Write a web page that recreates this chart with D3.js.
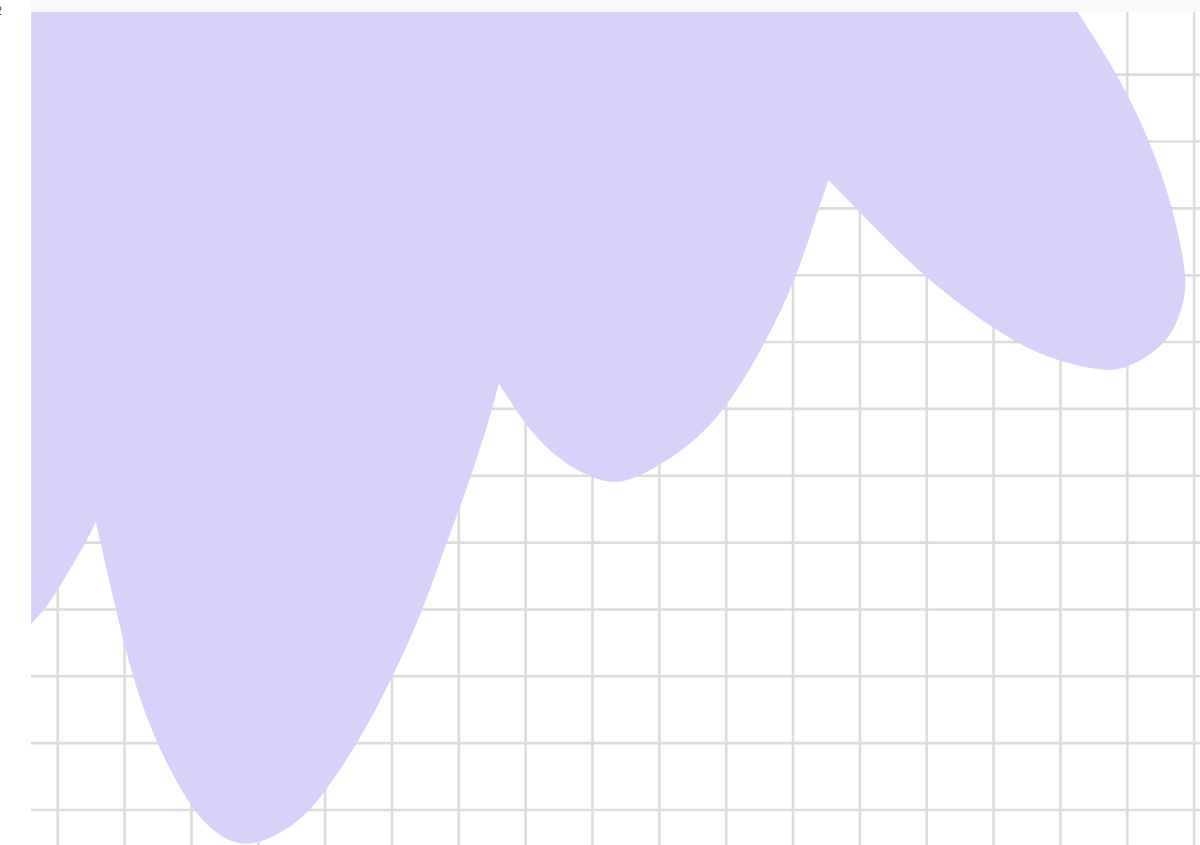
<!DOCTYPE html>
<meta charset="utf-8">
<script src="https://d3js.org/d3.v7.min.js"></script>
<style>
  body { margin: 0; background: #fff; }
  #my_dataviz text { font-family: "Liberation Sans", Arial, sans-serif; }
</style>
<div id="my_dataviz"></div>
<script>

// grid tick values
var xTicks = d3.range(0, 18);
var yTicks = d3.range(0, 12);

// outline of the filled area, one array per lobe, [x, y] in data units
var lobeLeft = [[-0.71, 2.50], [-0.41, 2.77], [-0.19, 3.00], [0.00, 3.29], [0.43, 4.01], [0.57, 4.31]];
var lobeBig = [[0.57, 4.31], [0.87, 3.00], [1.11, 2.00], [1.46, 1.01], [2.00, 0.00],
  [2.38, -0.37], [2.75, -0.55], [3.18, -0.44], [3.60, -0.18], [3.97, 0.22],
  [4.50, 1.01], [5.02, 2.00], [5.47, 3.00], [5.82, 4.01], [6.17, 4.94],
  [6.47, 5.88], [6.60, 6.38]];
var lobeMid = [[6.60, 6.38], [7.01, 5.73], [7.48, 5.24], [8.00, 4.96], [8.40, 4.86],
  [8.90, 5.09], [9.44, 5.44], [9.99, 5.98], [10.60, 7.00], [11.07, 8.00],
  [11.38, 9.00], [11.53, 9.42]];
var lobeRight = [[11.53, 9.42], [12.01, 8.93], [12.96, 7.96], [14.01, 7.18], [14.69, 6.81],
  [15.19, 6.66], [15.69, 6.56], [15.99, 6.61], [16.39, 6.83], [16.69, 7.13],
  [16.86, 7.63], [16.89, 8.00], [16.69, 9.00], [16.34, 10.02], [15.84, 11.04],
  [15.25, 11.94], [14.85, 12.57]];
var lobes = [lobeLeft, lobeBig, lobeMid, lobeRight];

var width = 1200, height = 845;
var plot = {left: 31, top: 12};
var topValue = 13;

var svg = d3.select("#my_dataviz")
  .append("svg")
    .attr("width", width)
    .attr("height", height);

// scales: one grid step is ~66.85px on both axes
var x = d3.scaleLinear().domain([0, 17]).range([57.7, 57.7 + 17 * 66.85]);
var y = d3.scaleLinear().domain([0, 11]).range([810, 810 - 11 * 66.85]);

// light band above the plot
svg.append("rect")
  .attr("x", plot.left).attr("y", 0)
  .attr("width", width - plot.left).attr("height", plot.top)
  .attr("fill", "#f9f9f9");

// cut off tick label on the left
svg.append("text")
  .attr("x", 2).attr("y", 15)
  .attr("text-anchor", "end")
  .style("font-size", "12px")
  .style("fill", "#444")
  .text("12");

svg.append("clipPath").attr("id", "clip")
  .append("rect")
    .attr("x", plot.left).attr("y", plot.top)
    .attr("width", width - plot.left).attr("height", height - plot.top);

var g = svg.append("g").attr("clip-path", "url(#clip)");

// grid
g.selectAll("line.vgrid")
  .data(xTicks)
  .enter()
  .append("line")
    .attr("class", "vgrid")
    .attr("x1", function(d) { return x(d); })
    .attr("x2", function(d) { return x(d); })
    .attr("y1", plot.top)
    .attr("y2", height)
    .attr("stroke", "#dcdcdc")
    .attr("stroke-width", 2.6);

g.selectAll("line.hgrid")
  .data(yTicks)
  .enter()
  .append("line")
    .attr("class", "hgrid")
    .attr("x1", plot.left)
    .attr("x2", width)
    .attr("y1", function(d) { return y(d); })
    .attr("y2", function(d) { return y(d); })
    .attr("stroke", "#dcdcdc")
    .attr("stroke-width", 2.6);

// filled area: every lobe closed towards the top, joined in one path so no seams show
var line = d3.line()
  .x(function(d) { return x(d[0]); })
  .y(function(d) { return y(d[1]); })
  .curve(d3.curveBasis);

var areaPath = lobes.map(function(d) {
  var first = d[0], last = d[d.length - 1];
  return line(d) +
    "L" + x(last[0]) + "," + y(topValue) +
    "L" + x(first[0]) + "," + y(topValue) + "Z";
}).join("");

g.append("path")
  .attr("d", areaPath)
  .attr("fill", "#d8d1f9")
  .attr("fill-rule", "nonzero")
  .attr("stroke", "none");

</script>
